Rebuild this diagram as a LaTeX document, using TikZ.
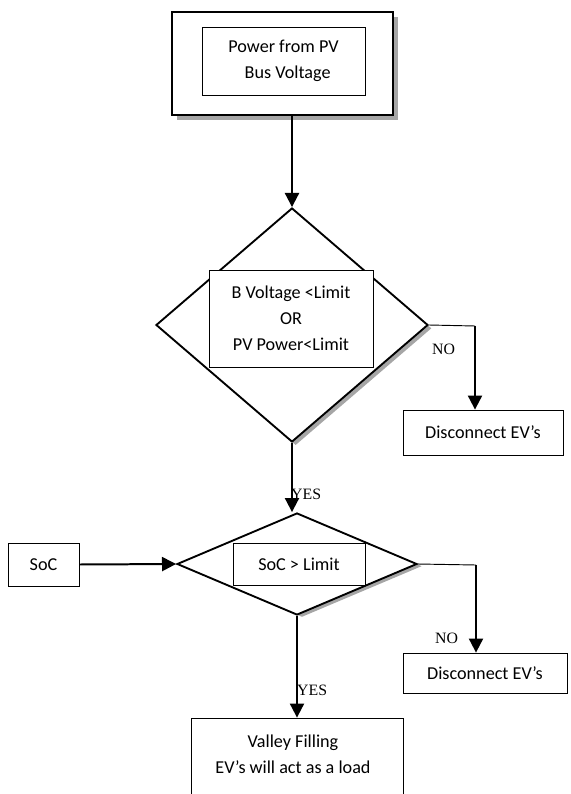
\documentclass[tikz,border=0pt]{standalone}
\usepackage{fontspec}
\setmainfont{Carlito}
\newfontfamily\yesno{Liberation Serif}
\usetikzlibrary{shapes.geometric,shadows,arrows.meta}
\tikzset{
    BX1/.style ={rectangle, draw, line width=1.8pt, fill=white, drop shadow={shadow xshift=0.15cm, shadow yshift=-0.15cm, fill=gray!70, opacity=1}},
    BX2/.style ={rectangle, draw, line width=0.7pt, fill=white, align=center, font=\fontsize{15.5}{22}\selectfont},
    DM/.style ={diamond, draw, line width=1.6pt, fill=white, inner sep=0pt},
    AR/.style ={line width=1.7pt, -{Triangle[length=12pt,width=12pt]}},
    LN/.style ={line width=0.8pt},
    LB/.style ={font=\yesno\fontsize{13.5}{16}\selectfont, inner sep=0pt}
}
\begin{document}
\begin{tikzpicture}[x=0.03cm, y=-0.03cm]
    \useasboundingbox (0,0) rectangle (571,794);
    \node (T1) [BX1, minimum width=6.63cm, minimum height=3.09cm] at (282.5,63.5) {};
    \node (T2) [BX2, minimum width=4.89cm, minimum height=2.04cm] at (283.5,61) {Power from PV\\ \ \ Bus Voltage};
    \node (D1) [DM, minimum width=8.16cm, minimum height=7.02cm,
        drop shadow={shadow xshift=0.11cm, shadow yshift=-0.1cm, fill=gray!70, opacity=1}] at (292,325) {};
    \node (Q1) [BX2, minimum width=4.92cm, minimum height=2.91cm] at (291,318.5) {B Voltage <Limit\\OR\\PV Power<Limit};
    \node (DC1) [BX2, minimum width=4.8cm, minimum height=1.35cm] at (483,432.5) {Disconnect EV’s};
    \node (D2) [DM, minimum width=7.2cm, minimum height=3.06cm,
        drop shadow={shadow xshift=0.15cm, shadow yshift=-0.065cm, fill=gray!70, opacity=1}] at (297,564) {};
    \node (Q2) [BX2, minimum width=3.96cm, minimum height=1.26cm] at (299,564) {SoC > Limit};
    \node (SOC) [BX2, minimum width=2.13cm, minimum height=1.29cm] at (43.5,564.5) {SoC};
    \node (DC2) [BX2, minimum width=4.92cm, minimum height=1.2cm] at (485,673) {Disconnect EV’s};
    \node (VF) [BX2, minimum width=6.36cm, minimum height=2.46cm] at (297,759) {};
    \node (VT) [align=center, font=\fontsize{15.5}{22}\selectfont] at (293,754.5) {Valley Filling\\EV’s will act as a load};

    \coordinate (C1) at (475,326);
    \coordinate (C2) at (476,565);

    \draw[AR] (T1.south -| D1.north) -- (D1.north);
    \draw[AR] (D1.south) -- (D1.south |- D2.north);
    \draw[LN] (D1.east) -- (C1);
    \draw[AR] (C1) -- (C1 |- DC1.north);
    \draw[AR] (SOC.east) -- (D2.west);
    \draw[LN] (D2.east) -- (C2);
    \draw[AR] (C2) -- (C2 |- DC2.north);
    \draw[AR] (D2.south) -- (VF.north);

    \node (Y1) [LB, anchor=west] at (291,494) {YES};
    \node (Y2) [LB, anchor=west] at (297,690) {YES};
    \node (N1) [LB] at (443.5,349) {NO};
    \node (N2) [LB] at (446.5,638) {NO};
\end{tikzpicture}
\end{document}
